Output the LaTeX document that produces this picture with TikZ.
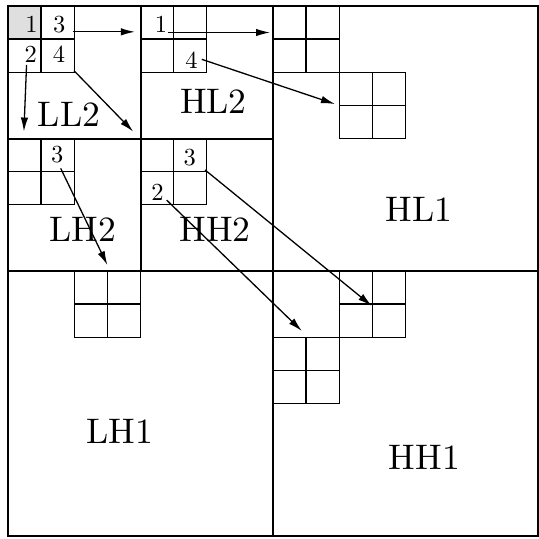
\documentclass[tikz,border=0pt]{standalone}
\usepackage{graphicx}
\usetikzlibrary{arrows.meta}
\newcommand{\quadgrid}[2]{%
  \draw[cellline] (#1,#2) rectangle ++(2,2);
  \draw[cellline] (#1+1,#2) -- ++(0,2);
  \draw[cellline] (#1,#2+1) -- ++(2,0);}
\newcommand{\numtxt}[1]{\scalebox{2.45}{\fontsize{10}{12}\selectfont #1}}
\newcommand{\bandtxt}[1]{\scalebox{3.55}{\fontsize{10}{12}\selectfont #1}}
\begin{document}
\begin{tikzpicture}[x=33.125pt,y=-33.125pt,
  bandline/.style={line width=2pt},
  cellline/.style={line width=1.4pt},
  numlbl/.style={inner sep=0pt},
  bandlbl/.style={inner sep=0pt},
  arrline/.style={line width=1.3pt, -{Latex[length=14pt,width=7.5pt]}},
]
\useasboundingbox (-0.2415,-0.1811) rectangle (16.0,16.09);
% shaded DC coefficient
\fill[gray!25] (0,0) rectangle (1,1);
% 2x2 coefficient groups
\quadgrid{0}{0}
\quadgrid{4}{0}
\quadgrid{0}{4}
\quadgrid{4}{4}
\quadgrid{8}{0}
\quadgrid{10}{2}
\quadgrid{2}{8}
\quadgrid{10}{8}
\quadgrid{8}{10}
% subband boundaries
\draw[bandline] (0,0) rectangle (16,16);
\draw[bandline] (8,0) -- (8,16);
\draw[bandline] (0,8) -- (16,8);
\draw[bandline] (4,0) -- (4,8);
\draw[bandline] (0,4) -- (8,4);
% numbers
\node[numlbl] (n1)  at (0.71,0.56) {\numtxt{1}};
\node[numlbl] (n3)  at (1.55,0.57) {\numtxt{3}};
\node[numlbl] (n2)  at (0.69,1.46) {\numtxt{2}};
\node[numlbl] (n4)  at (1.54,1.46) {\numtxt{4}};
\node[numlbl] (h1)  at (4.62,0.56) {\numtxt{1}};
\node[numlbl] (h4)  at (5.54,1.63) {\numtxt{4}};
\node[numlbl] (l3)  at (1.49,4.50) {\numtxt{3}};
\node[numlbl] (d3)  at (5.49,4.57) {\numtxt{3}};
\node[numlbl] (d2)  at (4.51,5.63) {\numtxt{2}};
% band labels
\node[bandlbl] (LL2) at (1.84,3.28) {\bandtxt{LL2}};
\node[bandlbl] (HL2) at (6.20,2.88) {\bandtxt{HL2}};
\node[bandlbl] (LH2) at (2.25,6.75) {\bandtxt{LH2}};
\node[bandlbl] (HH2) at (6.25,6.75) {\bandtxt{HH2}};
\node[bandlbl] (HL1) at (12.41,6.13) {\bandtxt{HL1}};
\node[bandlbl] (LH1) at (3.38,12.85) {\bandtxt{LH1}};
\node[bandlbl] (HH1) at (12.57,13.63) {\bandtxt{HH1}};
% arrow end points
\coordinate (s1) at (1.95,0.78);  \coordinate (e1) at (3.83,0.78);
\coordinate (s2) at (4.83,0.80);  \coordinate (e2) at (7.91,0.80);
\coordinate (s3) at (0.56,1.78);  \coordinate (e3) at (0.48,3.79);
\coordinate (s4) at (1.99,1.95);  \coordinate (e4) at (3.78,3.79);
\coordinate (s5) at (5.85,1.61);  \coordinate (e5) at (9.87,2.96);
\coordinate (s6) at (1.59,4.90);  \coordinate (e6) at (3.00,7.82);
\coordinate (s7) at (5.95,4.95);  \coordinate (e7) at (10.98,9.05);
\coordinate (s8) at (4.79,5.86);  \coordinate (e8) at (8.87,9.81);
\draw[arrline] (s1) -- (e1);
\draw[arrline] (s2) -- (e2);
\draw[arrline] (s3) -- (e3);
\draw[arrline] (s4) -- (e4);
\draw[arrline] (s5) -- (e5);
\draw[arrline] (s6) -- (e6);
\draw[arrline] (s7) -- (e7);
\draw[arrline] (s8) -- (e8);
\end{tikzpicture}
\end{document}
